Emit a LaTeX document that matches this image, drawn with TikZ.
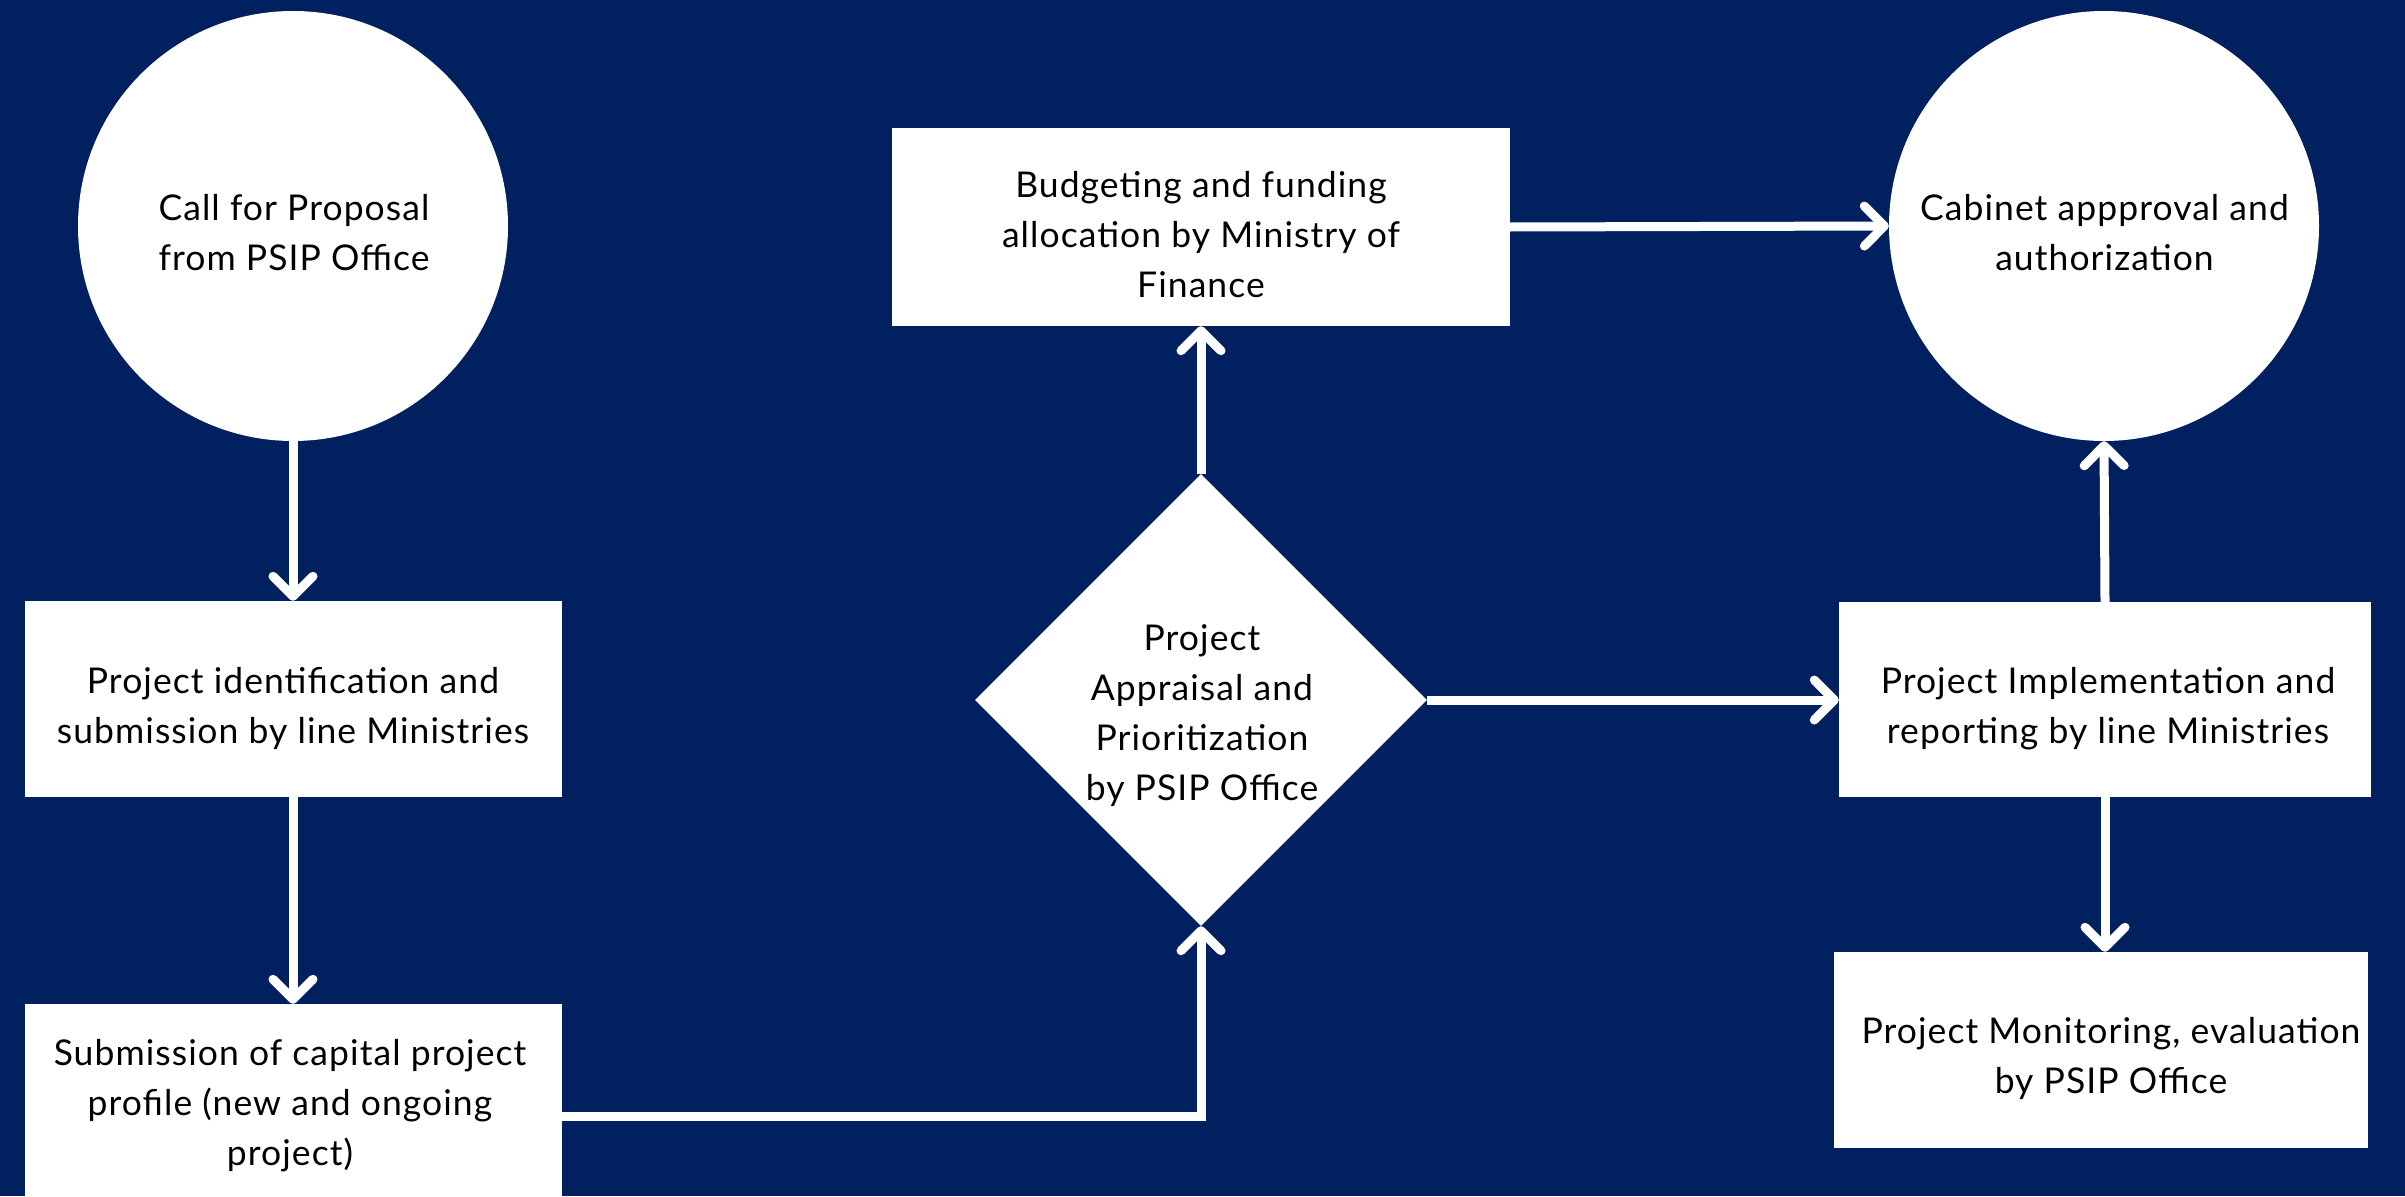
\documentclass[tikz,border=0pt]{standalone}
\usepackage{fontspec}
\setmainfont[LetterSpace=3]{Lato}
\usetikzlibrary{arrows.meta,shapes.geometric}
\definecolor{navy}{RGB}{1,32,96}
\begin{document}
\begin{tikzpicture}[x=1pt,y=-1pt,
  txt/.style={font=\fontsize{35.5}{50}\selectfont, text=black, align=center, inner sep=0pt, anchor=north},
  boxnode/.style={rectangle, fill=white, inner sep=0pt},
  circnode/.style={circle, fill=white, inner sep=0pt, minimum size=430pt},
  flow/.style={draw=white, line width=9pt, line join=miter, -{Straight Barb[length=20pt,width=40pt,round]}},
]
\clip (0,0) rectangle (2405,1196);
\fill[navy] (0,0) rectangle (2405,1196);
% shapes
\node[circnode] (c1) at (293,226) {};
\node[boxnode, minimum width=537pt, minimum height=196pt] (b1) at (293,699) {};
\node[boxnode, minimum width=537pt, minimum height=224pt] (b2) at (293,1116) {};
\node[diamond, fill=white, inner sep=0pt, aspect=1, minimum width=452pt, minimum height=452pt] (d) at (1201,700) {};
\node[boxnode, minimum width=618pt, minimum height=198pt] (bb) at (1201,227) {};
\node[circnode] (c2) at (2104,226) {};
\node[boxnode, minimum width=532pt, minimum height=195pt] (ib) at (2105,699.5) {};
\node[boxnode, minimum width=534pt, minimum height=196pt] (mb) at (2101,1050) {};
% texts
\node[txt] (c1t) at (294,194) {Call for Proposal\\from PSIP Office};
\node[txt] (b1t) at (293,667) {Project identification and\\submission by line Ministries};
\node[txt] (b2t) at (290,1039) {Submission of capital project\\profile (new and ongoing\\project)};
\node[txt] (dt) at (1202,624) {Project\\Appraisal and\\Prioritization\\by PSIP Office};
\node[txt] (bbt) at (1201,171) {Budgeting and funding\\allocation by Ministry of\\Finance};
\node[txt] (c2t) at (2104.5,194) {Cabinet appproval and\\authorization};
\node[txt] (ibt) at (2108,667) {Project Implementation and\\reporting by line Ministries};
\node[txt] (mbt) at (2111,1017) {Project Monitoring, evaluation\\by PSIP Office};
% connectors
\draw[flow] (c1) -- (b1);
\draw[flow] (b1) -- (b2);
\draw[flow] (b2.east) -| (d.south);
\draw[flow] (d.north) -- (bb.south);
\draw[flow] (bb.east) -- (c2.west);
\draw[flow] (d.east) -- (d.east -| ib.west);
\draw[flow] (ib.north) -- (c2.south);
\draw[flow] (ib.south) -- (mb.north -| ib.south);
\end{tikzpicture}
\end{document}
